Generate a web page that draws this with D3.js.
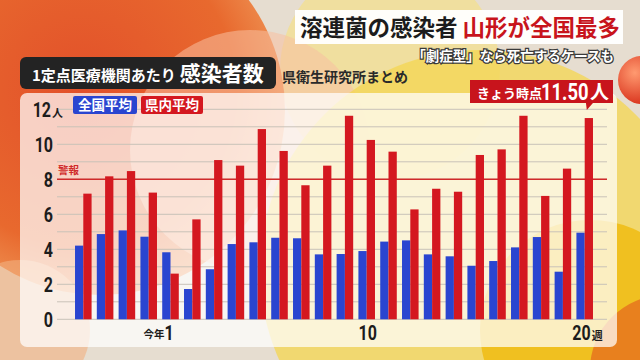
<!DOCTYPE html>
<html><head><meta charset="utf-8">
<script src="https://cdn.jsdelivr.net/npm/d3@7"></script>
<style>
html,body{margin:0;padding:0;background:#e6ddd0;}
svg{display:block;}
</style></head>
<body>
<svg id="c" width="640" height="360"></svg>
<script>
// ---- data ----
const weeks = ["49","50","51","52","1","2","3","4","5","6","7","8","9","10","11","12","13","14","15","16","17","18","19","20"];
const nationalAvg = [4.21,4.87,5.08,4.72,3.83,1.73,2.86,4.30,4.40,4.66,4.63,3.71,3.73,3.90,4.44,4.51,3.71,3.60,3.06,3.33,4.11,4.70,2.72,4.95];
const prefAvg = [7.18,8.17,8.47,7.24,2.61,5.71,9.10,8.78,10.87,9.62,7.66,8.78,11.63,10.25,9.58,6.28,7.46,7.29,9.39,9.71,11.63,7.05,8.61,11.50];
const seriesNames = ["全国平均","県内平均"];
const yTicks = [0,2,4,6,8,10,12];
const xTickLabels = [{week:"1",pre:"今年",post:""},{week:"10",pre:"",post:""},{week:"20",pre:"",post:"週"}];
const alertLevel = 8;

const JP = "'Noto Sans CJK JP','Noto Sans',sans-serif";
const NUM = "Roboto,'Noto Sans',sans-serif";
const BLUE = "#2a45d0", RED = "#d41820";
const SX = 0.8; // condensed digits

const svg = d3.select("#c");
const defs = svg.append("defs");

// ---- background ----
const g1 = defs.append("radialGradient").attr("id","gOr").attr("cx","45%").attr("cy","45%").attr("r","60%");
g1.append("stop").attr("offset","0%").attr("stop-color","#e2502a");
g1.append("stop").attr("offset","70%").attr("stop-color","#e8692e");
g1.append("stop").attr("offset","100%").attr("stop-color","#f09a5a");
const g2 = defs.append("radialGradient").attr("id","gBall").attr("cx","35%").attr("cy","35%").attr("r","70%");
g2.append("stop").attr("offset","0%").attr("stop-color","#ff9a70");
g2.append("stop").attr("offset","100%").attr("stop-color","#d8301a");

const bg = svg.append("g");
bg.append("rect").attr("width",640).attr("height",360).attr("fill","#e6ddd0");
bg.append("circle").attr("cx",390).attr("cy",70).attr("r",110).attr("fill","#f3e08a").attr("opacity",0.7);
bg.append("circle").attr("cx",100).attr("cy",110).attr("r",185).attr("fill","url(#gOr)");
bg.append("circle").attr("cx",250).attr("cy",150).attr("r",120).attr("fill","#f7c0a0").attr("opacity",0.55);
bg.append("circle").attr("cx",20).attr("cy",330).attr("r",70).attr("fill","#f2b080").attr("opacity",0.6);
bg.append("circle").attr("cx",480).attr("cy",270).attr("r",220).attr("fill","#f4d650").attr("opacity",0.75);
bg.append("circle").attr("cx",590).attr("cy",330).attr("r",110).attr("fill","#f0c020");
bg.append("circle").attr("cx",665).attr("cy",370).attr("r",75).attr("fill","#e8801e");
bg.append("circle").attr("cx",642).attr("cy",80).attr("r",24).attr("fill","url(#gBall)");

// ---- title ----
bg.append("rect").attr("x",295).attr("y",10).attr("width",328).attr("height",34).attr("fill","#ffffff").attr("opacity",0.95);
const title = svg.append("text").attr("x",300).attr("y",36).attr("font-family",JP).attr("font-weight",700).attr("font-size",22.5);
title.append("tspan").attr("fill","#1c1c1c").text("溶連菌の感染者");
title.append("tspan").attr("fill","#c8141c").attr("dx",5).text("山形が全国最多");
svg.append("text").attr("x",614).attr("y",61).attr("text-anchor","end").attr("font-family",JP).attr("font-weight",700).attr("font-size",13.5)
  .attr("fill","#ffffff").attr("stroke","#3a3a3a").attr("stroke-width",2.5).attr("paint-order","stroke").text("「劇症型」なら死亡するケースも");

// ---- left header ----
svg.append("rect").attr("x",20).attr("y",57).attr("width",256).attr("height",32).attr("rx",6).attr("fill","#232323");
const hd = svg.append("text").attr("x",32).attr("y",81).attr("font-family",JP).attr("font-weight",700).attr("fill","#ffffff");
hd.append("tspan").attr("font-size",15).text("1定点医療機関あたり");
hd.append("tspan").attr("font-size",21).attr("dx",4).text("感染者数");
svg.append("text").attr("x",282).attr("y",82).attr("font-family",JP).attr("font-weight",700).attr("font-size",14).attr("fill","#2a2a2a").text("県衛生研究所まとめ");

// ---- panel ----
svg.append("rect").attr("x",20).attr("y",93).attr("width",597).attr("height",254).attr("rx",7).attr("fill","#ffffff").attr("opacity",0.72);

// ---- scales ----
const x = d3.scaleBand().domain(weeks).range([72.4,595.6]).paddingInner(0.24).paddingOuter(0.12);
const xs = d3.scaleBand().domain(seriesNames).range([0,x.bandwidth()]);
const y = d3.scaleLinear().domain([0,12]).range([319.3,109.3]);

// grid lines every 1
const grid = svg.append("g");
grid.selectAll("line").data(d3.range(0,13)).join("line")
  .attr("x1",57).attr("x2",607).attr("y1",d=>y(d)).attr("y2",d=>y(d))
  .attr("stroke","#c9c2b8").attr("stroke-width",1);

// y axis labels (condensed digits)
const yAxis = d3.axisLeft(y).tickValues(yTicks).tickSize(0).tickFormat(d=>d);
const ya = svg.append("g").attr("transform","translate(53,0)").call(yAxis);
ya.select(".domain").remove();
ya.selectAll(".tick").each(function(d){
  const t = d3.select(this);
  const off = d===12 ? -2 : 0;
  t.select("text").attr("font-family",NUM).attr("font-weight",700).attr("font-size",20).attr("fill","#1c1c1c")
    .attr("dy","0.36em").attr("x",off/SX).attr("transform",`scale(${SX},1)`);
});
svg.append("text").attr("x",52).attr("y",y(12)+8).attr("font-family",JP).attr("font-weight",700).attr("font-size",11).attr("fill","#1c1c1c").text("人");

// alert line
svg.append("line").attr("x1",57).attr("x2",607).attr("y1",y(alertLevel)).attr("y2",y(alertLevel)).attr("stroke","#d02a2a").attr("stroke-width",1.5);
svg.append("text").attr("x",58).attr("y",y(alertLevel)-5).attr("font-family",JP).attr("font-weight",700).attr("font-size",10.5).attr("fill","#d02a2a").text("警報");

// bars
const rows = weeks.map((w,i)=>({w, vals:[nationalAvg[i],prefAvg[i]]}));
const colors = d3.scaleOrdinal().domain(seriesNames).range([BLUE,RED]);
svg.append("g").selectAll("g").data(rows).join("g").attr("transform",d=>`translate(${x(d.w)},0)`)
  .selectAll("rect").data(d=>seriesNames.map((s,j)=>({s,v:d.vals[j]}))).join("rect")
  .attr("x",d=>xs(d.s)).attr("width",xs.bandwidth()).attr("y",d=>y(d.v)).attr("height",d=>y(0)-y(d.v)).attr("fill",d=>colors(d.s));

// x labels
function numText(parent, px, py, txt, anchor, size){
  return parent.append("g").attr("transform",`translate(${px},${py}) scale(${SX},1)`)
    .append("text").attr("text-anchor",anchor).attr("font-family",NUM).attr("font-weight",700).attr("font-size",size).attr("fill","#1c1c1c").text(txt);
}
const xl = svg.append("g");
xTickLabels.forEach(t=>{
  const cx = x(t.week)+x.bandwidth()/2;
  if(t.pre){
    xl.append("text").attr("x",cx-6).attr("y",338).attr("text-anchor","end").attr("font-family",JP).attr("font-weight",700).attr("font-size",10.5).attr("fill","#1c1c1c").text(t.pre);
    numText(xl, cx-6, 340, t.week, "start", 20);
  } else if(t.post){
    numText(xl, cx+6, 340, t.week, "end", 20);
    xl.append("text").attr("x",cx+7).attr("y",340).attr("font-family",JP).attr("font-weight",700).attr("font-size",11).attr("fill","#1c1c1c").text(t.post);
  } else {
    numText(xl, cx+1, 340, t.week, "middle", 20);
  }
});

// legend
const lg = svg.append("g");
[{n:seriesNames[0],x0:73,w:64},{n:seriesNames[1],x0:141,w:62}].forEach(o=>{
  lg.append("rect").attr("x",o.x0).attr("y",96).attr("width",o.w).attr("height",18).attr("rx",2).attr("fill",colors(o.n));
  lg.append("text").attr("x",o.x0+o.w/2).attr("y",110).attr("text-anchor","middle").attr("font-family",JP).attr("font-weight",700).attr("font-size",13.5).attr("fill","#fff").text(o.n);
});

// annotation
const last = weeks[weeks.length-1];
const ax = x(last)+xs(seriesNames[1])+xs.bandwidth()/2;
const an = svg.append("g");
an.append("rect").attr("x",470).attr("y",80).attr("width",143).attr("height",23).attr("fill","#c8141c");
an.append("path").attr("d",`M${ax-3},102 L${ax+5},102 L${ax-2},110 Z`).attr("fill","#c8141c");
an.append("text").attr("x",477).attr("y",98).attr("font-family",JP).attr("font-weight",700).attr("font-size",13).attr("fill","#fff").text("きょう時点");
an.append("g").attr("transform",`translate(541,100) scale(${SX},1)`).append("text")
  .attr("font-family",NUM).attr("font-weight",700).attr("font-size",23).attr("fill","#fff")
  .text(d3.format(".2f")(prefAvg[prefAvg.length-1]));
an.append("text").attr("x",590).attr("y",99).attr("font-family",JP).attr("font-weight",700).attr("font-size",19).attr("fill","#fff").text("人");
</script>
</body></html>
